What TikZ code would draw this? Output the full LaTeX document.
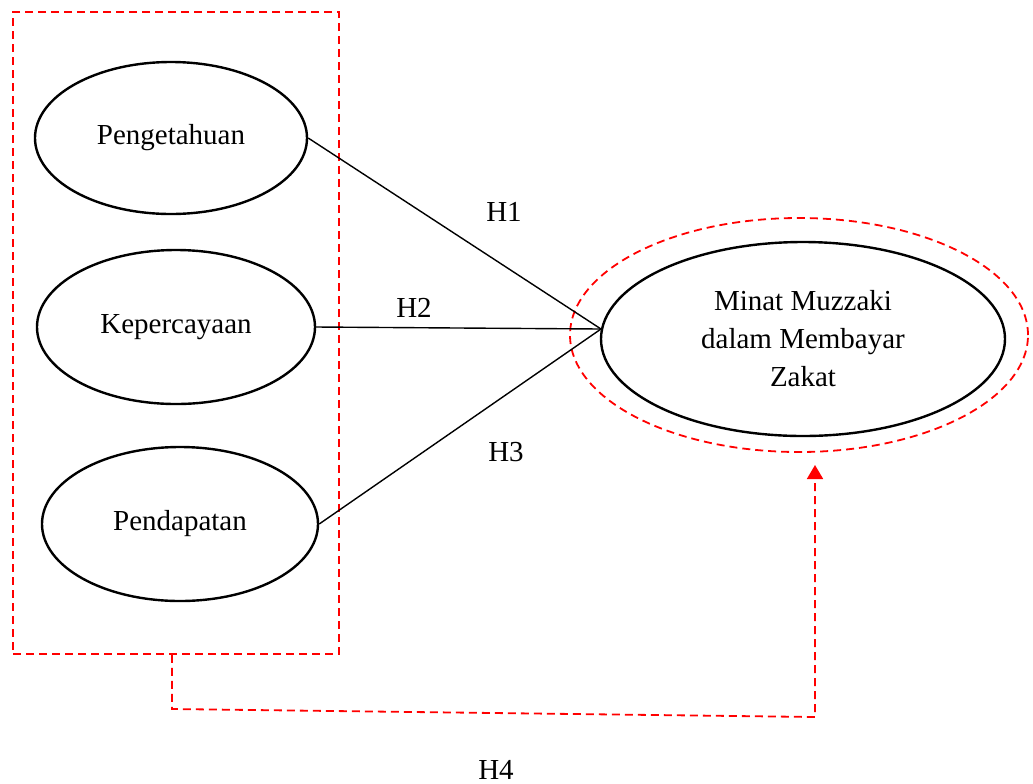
\documentclass[tikz,border=0pt]{standalone}
\usepackage{fontspec}
\setmainfont{Liberation Serif}
\usetikzlibrary{shapes.geometric,arrows.meta}

\begin{document}
\begin{tikzpicture}
[x = 0.5pt, y = -0.5pt,
font = \fontsize{14.5}{19}\selectfont,
var/.style = {draw, ellipse, line width = 1.2pt, inner sep = 0pt, align = center},
reddash/.style = {draw = red, line width = 0.9pt, dash pattern = on 4pt off 2.5pt},
]
\useasboundingbox (0,0) rectangle (1033,783);
% variabel independen
\node [var, minimum width = 136pt, minimum height = 76pt] (P) at (171,138) {Pengetahuan};
\node [var, minimum width = 139pt, minimum height = 77pt] (K) at (176,327) {Kepercayaan};
\node [var, minimum width = 138pt, minimum height = 77pt] (D) at (180,524) {Pendapatan};
\node [reddash, rectangle, minimum width = 163pt, minimum height = 321pt] (box) at (176,333) {};
% variabel dependen
\node [var, minimum width = 202pt, minimum height = 97pt] (M) at (803,339)
{Minat Muzzaki\\dalam Membayar\\Zakat};
\node [reddash, ellipse, minimum width = 229pt, minimum height = 117pt] (Mout) at (799,335) {};
\coordinate (meet) at (601,329);
\draw [line width = 0.7pt] (P.east) -- (meet);
\draw [line width = 0.7pt] (K.east) -- (meet);
\draw [line width = 0.7pt] (D.east) -- (meet);
\node (H1) at (504,212) {H1};
\node (H2) at (414,308) {H2};
\node (H3) at (506,452) {H3};
% H4 simultan
\coordinate (c1) at (172,709);
\coordinate (c2) at (815,717);
\coordinate (tip) at (815,465);
\draw [reddash, -{Triangle[width = 8pt, length = 7pt, fill = red]}]
(box.south -| c1) -- (c1) -- (c2) -- (tip);
\node (H4) at (496,770) {H4};
\end{tikzpicture}
\end{document}
